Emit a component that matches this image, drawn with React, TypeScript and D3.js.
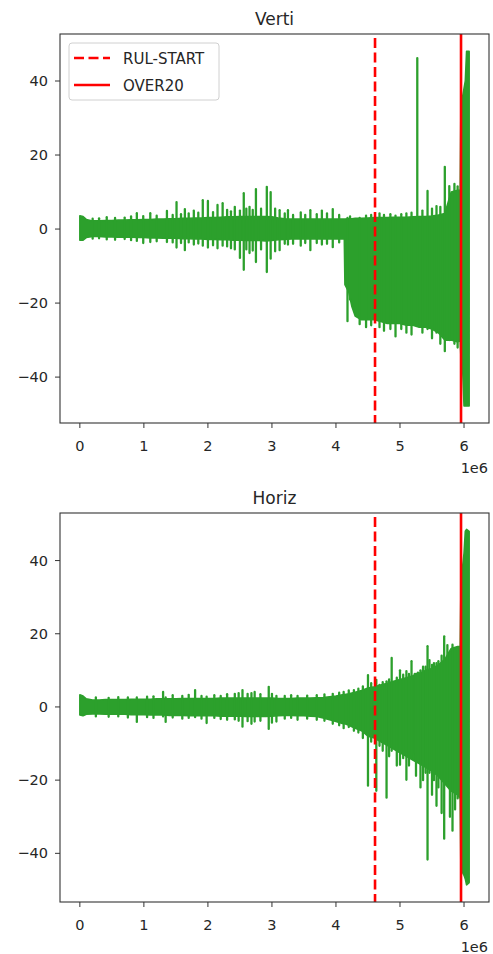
import React from "react";
import * as d3 from "d3";

// ---------- DATA (x in units of 1e6) ----------
const xTicks = [0, 1, 2, 3, 4, 5, 6];
const yTicks = [-40, -20, 0, 20, 40];
const rulStart = 4.61;
const over20 = 5.953;
const legendLabels = ["RUL-START", "OVER20"];

const vertX = [0, 0.05, 0.1, 0.2, 0.3, 0.4, 0.5, 0.6, 0.7, 0.8, 0.9, 1.0, 1.1, 1.2, 1.3, 1.4, 1.5, 1.6, 1.7, 1.8, 1.9, 2.0, 2.1, 2.2, 2.3, 2.4, 2.5, 2.6, 2.7, 2.8, 2.9, 3.0, 3.1, 3.2, 3.3, 3.4, 3.5, 3.6, 3.7, 3.8, 3.9, 4.0, 4.1, 4.13, 4.14, 4.2, 4.25, 4.3, 4.4, 4.5, 4.6, 4.7, 4.8, 4.9, 5.0, 5.1, 5.2, 5.3, 5.4, 5.5, 5.6, 5.7, 5.8, 5.9, 5.94, 5.95, 5.97, 6.0, 6.02, 6.04, 6.08];
const vertHi = [3.6, 3.4, 2.6, 2.2, 2.2, 2.3, 2.3, 2.4, 2.4, 2.5, 2.5, 2.6, 2.6, 2.7, 2.7, 2.8, 2.8, 2.9, 2.9, 3.0, 3.0, 3.1, 3.1, 3.2, 3.3, 3.3, 3.4, 3.4, 3.4, 3.4, 3.4, 3.3, 3.0, 2.8, 2.7, 2.7, 2.7, 2.7, 2.7, 2.7, 2.7, 2.7, 2.7, 2.7, 2.7, 2.8, 2.8, 2.9, 2.9, 3.0, 3.1, 3.1, 3.1, 3.2, 3.2, 3.2, 3.3, 3.4, 3.4, 3.5, 3.8, 4.2, 10.0, 10.5, 10.5, 30, 35, 38, 40, 48, 48];
const vertLo = [-3.0, -3.0, -2.3, -2.0, -2.0, -2.1, -2.1, -2.2, -2.2, -2.2, -2.3, -2.3, -2.4, -2.4, -2.5, -2.5, -2.5, -2.6, -2.6, -2.7, -2.7, -2.8, -2.8, -2.9, -2.9, -3.0, -3.0, -3.1, -3.1, -3.1, -3.2, -3.1, -2.9, -2.8, -2.7, -2.7, -2.7, -2.7, -2.7, -2.7, -2.7, -2.7, -2.7, -2.7, -15, -17, -21, -23.5, -24.5, -24.5, -24.5, -25, -25.5, -25.5, -25.5, -26, -26, -26.5, -26.5, -27, -28, -30, -30, -30.5, -30, -34, -34, -47.8, -47.8, -47.8, -47.8];
// [x, high, low]
const vertSpikes = [
  [0.2, 2.8, -2.6], [0.3, 2.9, -2.5], [0.42, 3.2, -2.8], [0.55, 3.0, -2.9], [0.7, 3.1, -2.7], [0.8, 3.4, -3.0],
  [0.89, 4.3, -3.2], [0.99, 3.5, -3.8], [1.1, 4.3, -3.5], [1.2, 3.6, -3.3], [1.36, 4.9, -3.5], [1.45, 3.8, -3.6],
  [1.51, 7.3, -5], [1.58, 4.0, -3.8], [1.64, 5.4, -5.7], [1.7, 4.2, -3.6], [1.78, 5, -4.2], [1.85, 4.4, -3.9],
  [1.92, 7.8, -4.5], [2.0, 7.6, -5], [2.08, 4.6, -4.4], [2.15, 6.5, -5.2], [2.23, 7, -4.5], [2.3, 5.2, -4.7],
  [2.36, 4.8, -5.2], [2.42, 6, -5.5], [2.5, 5, -7.8], [2.56, 9.7, -11], [2.6, 5.5, -5.5], [2.65, 6, -6.5],
  [2.7, 5.2, -5.8], [2.75, 10.8, -8.9], [2.83, 5.5, -5.5], [2.92, 11.4, -11.6], [2.98, 10, -8], [3.05, 5.5, -6],
  [3.12, 5.1, -5.7], [3.2, 4.2, -4.0], [3.25, 5.1, -4.2], [3.33, 3.8, -4.0], [3.45, 4.5, -4.5], [3.52, 3.8, -3.8],
  [3.6, 5.1, -5.7], [3.7, 4.0, -3.8], [3.78, 5, -4.2], [3.86, 4.2, -4.0], [3.95, 5.4, -4.9], [4.05, 3.8, -3.6],
  [4.18, 3, -24.9], [4.22, 3.4, -19], [4.37, 3, -25.7], [4.47, 3.6, -26.5], [4.55, 3.8, -26], [4.68, 4.2, -26.5],
  [4.75, 3.8, -27.5], [4.85, 4.0, -27], [4.93, 3.6, -29], [5.02, 4.0, -27], [5.1, 4.2, -28], [5.18, 4.4, -28.5],
  [5.27, 46.2, -26], [5.35, 5.0, -28], [5.43, 10.3, -27], [5.5, 5.5, -29.5], [5.57, 6.2, -28], [5.63, 6.0, -31],
  [5.7, 16.8, -33], [5.77, 11.6, -30], [5.85, 12.2, -31], [5.9, 11.5, -32],
];

const horizX = vertX;
const horizHi = [3.3, 3.0, 2.2, 1.9, 1.9, 2.0, 2.0, 2.0, 2.0, 2.1, 2.1, 2.1, 2.1, 2.2, 2.2, 2.2, 2.2, 2.3, 2.3, 2.3, 2.3, 2.3, 2.3, 2.4, 2.4, 2.4, 2.4, 2.4, 2.4, 2.4, 2.4, 2.4, 2.3, 2.3, 2.3, 2.4, 2.4, 2.4, 2.5, 2.6, 2.8, 3.0, 3.3, 3.4, 3.4, 3.6, 3.8, 4.0, 4.5, 5.2, 5.5, 6.0, 6.5, 7.0, 7.5, 8.0, 8.5, 9.2, 10.0, 10.5, 11.5, 13.0, 16.0, 16.5, 16.5, 30, 37, 42, 48, 48.5, 48];
const horizLo = [-2.2, -2.4, -2.0, -1.9, -1.9, -2.0, -2.0, -2.0, -2.0, -2.1, -2.1, -2.1, -2.2, -2.2, -2.2, -2.3, -2.3, -2.3, -2.4, -2.4, -2.4, -2.4, -2.4, -2.5, -2.5, -2.5, -2.5, -2.6, -2.6, -2.6, -2.6, -2.5, -2.4, -2.3, -2.3, -2.4, -2.4, -2.5, -2.6, -3.0, -3.5, -4.0, -4.5, -4.6, -4.6, -5.0, -5.4, -5.8, -6.5, -8.0, -8.5, -9.5, -10.5, -11.5, -12.5, -13.5, -14.5, -15.5, -16.5, -17.5, -19, -21, -23, -24, -25, -42, -45, -46, -47, -48.6, -48];
const horizSpikes = [
  [0.25, 2.6, -2.6], [0.45, 2.5, -2.7], [0.6, 2.7, -2.6], [0.75, 2.6, -2.9], [0.89, 2.6, -4.1], [1.05, 2.8, -2.8],
  [1.15, 2.9, -3.0], [1.3, 4.1, -2.6], [1.34, 2.6, -4.1], [1.45, 3.2, -2.9], [1.6, 3.0, -3.2], [1.7, 3.3, -3.0],
  [1.8, 4.6, -2.8], [1.9, 3.0, -3.2], [1.98, 2.8, -4.4], [2.1, 3.2, -3.0], [2.2, 3.0, -3.3], [2.3, 3.5, -3.5],
  [2.42, 3.6, -3.4], [2.48, 3.8, -3.8], [2.54, 4.6, -5.4], [2.62, 3.6, -3.9], [2.68, 3.8, -4.6], [2.73, 4.1, -4],
  [2.82, 3.5, -3.8], [2.95, 5.5, -6], [3.0, 3.6, -4.3], [3.07, 3.0, -4], [3.2, 3.0, -3.2], [3.3, 3.2, -3.0],
  [3.4, 3, -3.5], [3.55, 3.1, -3.2], [3.7, 3.2, -3.5], [3.82, 3.4, -3.8], [3.95, 3.6, -4.6], [4.05, 3.9, -5.0],
  [4.12, 4.1, -5.8], [4.2, 4.5, -5.5], [4.28, 4.6, -6.5], [4.35, 5, -7], [4.42, 5.6, -8.5], [4.5, 8.7, -21.5],
  [4.55, 6.5, -9.5], [4.63, 7.4, -22.9], [4.68, 6, -10.6], [4.73, 6.8, -12], [4.79, 7, -24.8], [4.83, 7.5, -13.5],
  [4.87, 13.4, -12], [4.95, 8, -16], [5.0, 10, -15.8], [5.05, 8.8, -14], [5.1, 9.8, -19.9], [5.14, 9.0, -16],
  [5.18, 12.5, -14], [5.23, 9, -12.6], [5.25, 9, -18.8], [5.28, 9.4, -15], [5.32, 10, -22], [5.36, 11, -20],
  [5.4, 11, -18], [5.43, 16.6, -41.7], [5.46, 12.8, -18], [5.5, 11.5, -24], [5.53, 12, -20], [5.57, 12, -27],
  [5.6, 12.5, -22], [5.65, 14, -29], [5.69, 19.3, -36], [5.74, 16.9, -20], [5.78, 15, -30], [5.82, 17, -33.8],
  [5.86, 16, -28], [5.9, 16, -25],
];

// ---------- RENDER ----------
const W = 493;
const H = 954;
const GREEN = "#2ca02c";
const RED = "#ff0000";
const FONT = "DejaVu Sans, sans-serif";
const TXT = "#262626";

type PanelProps = {
  title: string;
  xs: number[];
  his: number[];
  los: number[];
  spikes: number[][];
  top: number;
  bottom: number;
  yDomain: [number, number];
  legend?: boolean;
};

function Panel({ title, xs, his, los, spikes, top, bottom, yDomain, legend }: PanelProps) {
  const left = 60;
  const right = 489;
  const x = d3.scaleLinear().domain([-0.31, 6.39]).range([left, right]);
  const y = d3.scaleLinear().domain(yDomain).range([bottom, top]);
  const pts = xs.map((v, i) => ({ x: v, hi: his[i], lo: los[i] }));
  const area = d3
    .area<{ x: number; hi: number; lo: number }>()
    .x((d) => x(d.x))
    .y0((d) => y(d.lo))
    .y1((d) => y(d.hi));
  const areaPath = area(pts) || "";
  return (
    <g>
      <text x={(left + right) / 2} y={top - 9} textAnchor="middle" fontSize={17} fontFamily={FONT} fill={TXT}>
        {title}
      </text>
      <path d={areaPath} fill={GREEN} stroke={GREEN} strokeWidth={1.6} strokeLinejoin="round" />
      {spikes.map((s, i) => (
        <line key={i} x1={x(s[0])} x2={x(s[0])} y1={y(s[1])} y2={y(s[2])} stroke={GREEN} strokeWidth={2.3} strokeLinecap="round" />
      ))}
      <line x1={x(rulStart)} x2={x(rulStart)} y1={top} y2={bottom} stroke={RED} strokeWidth={2.6} strokeDasharray="10,4.5" strokeDashoffset={-4} />
      <line x1={x(over20)} x2={x(over20)} y1={top} y2={bottom} stroke={RED} strokeWidth={2.6} />
      <rect x={left} y={top} width={right - left} height={bottom - top} fill="none" stroke="#333" strokeWidth={1.1} />
      {yTicks.map((t) => (
        <g key={"y" + t}>
          <line x1={left - 5} x2={left} y1={y(t)} y2={y(t)} stroke="#333" strokeWidth={1} />
          <text x={left - 12} y={y(t) + 5} textAnchor="end" fontSize={14.5} fontFamily={FONT} fill={TXT}>
            {t < 0 ? "\u2212" + Math.abs(t) : String(t)}
          </text>
        </g>
      ))}
      {xTicks.map((t) => (
        <g key={"x" + t}>
          <line x1={x(t)} x2={x(t)} y1={bottom} y2={bottom + 5} stroke="#333" strokeWidth={1} />
          <text x={x(t)} y={bottom + 28} textAnchor="middle" fontSize={14.5} fontFamily={FONT} fill={TXT}>
            {String(t)}
          </text>
        </g>
      ))}
      <text x={right - 1} y={bottom + 50} textAnchor="end" fontSize={14.5} fontFamily={FONT} fill={TXT}>
        1e6
      </text>
      {legend && (
        <g>
          <rect x={69} y={43} width={150} height={57} rx={3} fill="white" fillOpacity={0.85} stroke="#d0d0d0" strokeWidth={1} />
          <line x1={74} x2={110} y1={58} y2={58} stroke={RED} strokeWidth={2.6} strokeDasharray="10,4.5" />
          <text x={123} y={64} fontSize={15} fontFamily={FONT} fill={TXT}>
            {legendLabels[0]}
          </text>
          <line x1={74} x2={110} y1={85} y2={85} stroke={RED} strokeWidth={2.6} />
          <text x={123} y={91} fontSize={15} fontFamily={FONT} fill={TXT}>
            {legendLabels[1]}
          </text>
        </g>
      )}
    </g>
  );
}

export default function App() {
  return (
    <svg width={W} height={H} style={{ position: "absolute", left: 0, top: 0, background: "white" }}>
      <rect width={W} height={H} fill="white" />
      <Panel title="Verti" xs={vertX} his={vertHi} los={vertLo} spikes={vertSpikes} top={34} bottom={423} yDomain={[-52.4, 52.7]} legend />
      <Panel title="Horiz" xs={horizX} his={horizHi} los={horizLo} spikes={horizSpikes} top={513} bottom={902} yDomain={[-53.3, 53.0]} />
    </svg>
  );
}
